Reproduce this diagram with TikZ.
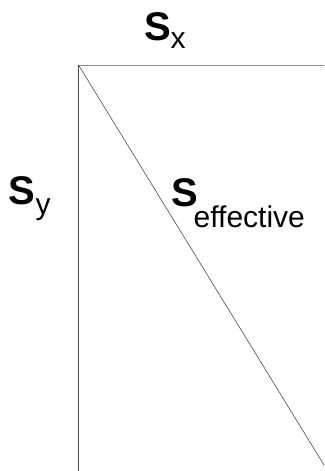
\documentclass[tikz,border=0pt]{standalone}
\usepackage{fontspec}
\setmainfont{Liberation Sans}
\newcommand{\bigS}{{\fontsize{40}{40}\selectfont\bfseries S}}
\newcommand{\subtxt}[2]{\raisebox{-#1}{\fontsize{30}{30}\selectfont #2}}
\begin{document}
\begin{tikzpicture}[x=1pt,y=1pt,
  edge/.style={draw=black!70, line width=0.9pt},
  lab/.style={anchor=base west, inner sep=0pt, outer sep=0pt}]
\useasboundingbox (0,0) rectangle (324,471);
\coordinate (O) at (78.5,406);
\coordinate (R) at (324,406);
\coordinate (B) at (78.5,0);
\coordinate (D) at (324,6);
\draw[edge, draw=black!45] (O) -- (R);
\draw[edge] (O) -- (B);
\draw[edge, line width=0.6pt] (O) -- (D);
\node[lab] (sx) at (144,430) {\bigS\kern0pt\subtxt{8pt}{x}};
\node[lab] (sy) at (9,266) {\bigS\kern0pt\subtxt{10pt}{y}};
\node[lab] (se) at (171,264) {\bigS\kern-4pt\subtxt{21pt}{effective}};
\end{tikzpicture}
\end{document}
